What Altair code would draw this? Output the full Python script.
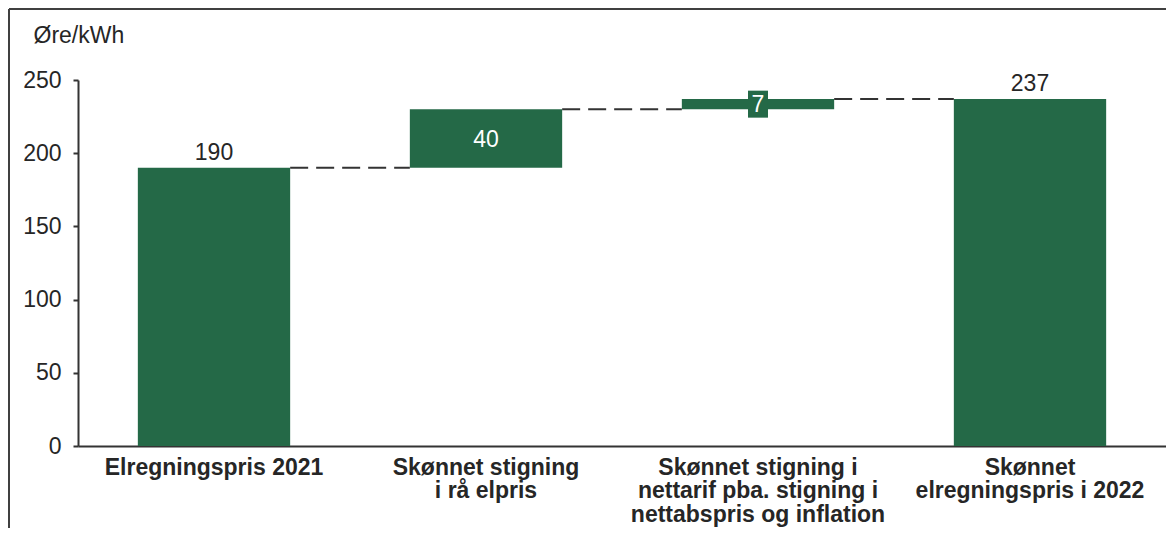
import altair as alt
import pandas as pd

categories = [
    "Elregningspris 2021",
    "Skønnet stigning|i rå elpris",
    "Skønnet stigning i|nettarif pba. stigning i|nettabspris og inflation",
    "Skønnet|elregningspris i 2022",
]
values = [190, 40, 7, 237]
kinds = ["total", "delta", "delta", "total"]
y_ticks = [0, 50, 100, 150, 200, 250]

GREEN = "#246947"
TXT = "#262626"
FONT = "Liberation Sans"
FS = 23

# build waterfall table
rows = []
running = 0
for c, v, k in zip(categories, values, kinds):
    if k == "total":
        base, top = 0, v
        running = v
    else:
        base, top = running, running + v
        running = top
    rows.append({"cat": c, "value": v, "kind": k, "base": base, "top": top,
                 "mid": (base + top) / 2, "level": top})
df = pd.DataFrame(rows)

conn = pd.DataFrame({
    "cat": categories[:-1],
    "next": categories[1:],
    "level": [r["level"] for r in rows[:-1]],
})

xscale = alt.Scale(domain=categories, paddingInner=0.44, paddingOuter=0.22)
yscale = alt.Scale(domain=[0, 250], nice=False)

x_axis = alt.Axis(
    title=None, labelExpr="split(datum.label, '|')", labelAngle=0,
    labelFont=FONT, labelFontWeight="bold", labelFontSize=FS, labelColor=TXT,
    labelLineHeight=23.5, labelPadding=10, ticks=False, labelLimit=400,
    domainColor="#333333", domainWidth=2, labelBaseline="top",
)
y_axis = alt.Axis(
    values=y_ticks, grid=False, tickSize=5, tickWidth=2, tickColor="#333333",
    domainColor="#333333", domainWidth=2, labelPadding=12,
    labelFont=FONT, labelFontSize=FS, labelColor=TXT,
    title="Øre/kWh", titleAngle=0, titleAlign="left", titleBaseline="alphabetic",
    titleX=-45, titleY=-38, titleFont=FONT, titleFontSize=FS,
    titleFontWeight="normal", titleColor=TXT,
)

base = alt.Chart(df)

bars = base.mark_bar(color=GREEN).encode(
    x=alt.X("cat:N", sort=categories, scale=xscale, axis=x_axis),
    y=alt.Y("base:Q", scale=yscale, axis=y_axis),
    y2="top:Q",
)

connectors = alt.Chart(conn).mark_rule(
    color="#333333", strokeWidth=2, strokeDash=[18, 8]
).encode(
    x=alt.X("cat:N", sort=categories, scale=xscale, bandPosition=1),
    x2=alt.X2("next:N", bandPosition=0),
    y=alt.Y("level:Q", scale=yscale),
)

total_labels = base.transform_filter("datum.kind == 'total'").mark_text(
    font=FONT, fontSize=FS, color=TXT, baseline="alphabetic", dy=-8
).encode(
    x=alt.X("cat:N", sort=categories, scale=xscale),
    y=alt.Y("top:Q", scale=yscale),
    text="value:Q",
)

label_box = base.transform_filter("datum.kind == 'delta' && datum.value < 10").mark_point(
    shape="M-0.74,-1L0.74,-1L0.74,1L-0.74,1Z", filled=True, color=GREEN,
    opacity=1, size=729, strokeWidth=0,
).encode(
    x=alt.X("cat:N", sort=categories, scale=xscale),
    y=alt.Y("mid:Q", scale=yscale),
)

delta_labels = base.transform_filter("datum.kind == 'delta'").mark_text(
    font=FONT, fontSize=FS, color="white", baseline="middle", dy=1
).encode(
    x=alt.X("cat:N", sort=categories, scale=xscale),
    y=alt.Y("mid:Q", scale=yscale),
    text="value:Q",
)

frame_df = pd.DataFrame({"k": [0]})
frame_top = alt.Chart(frame_df).mark_rule(color="#404040", strokeWidth=2).encode(
    x=alt.value(-69), x2=alt.value(1088), y=alt.value(-71)
)
frame_left = alt.Chart(frame_df).mark_rule(color="#404040", strokeWidth=2).encode(
    x=alt.value(-69), y=alt.value(-71), y2=alt.value(448)
)

chart = alt.layer(
    frame_top, frame_left, bars, connectors, label_box, delta_labels, total_labels
).properties(
    width=1088, height=366,
    autosize=alt.AutoSizeParams(type="none"),
    padding={"left": 70, "top": 72, "right": 0, "bottom": 82},
).configure_view(stroke=None)

chart.save("out.html", embed_options={"renderer": "svg", "actions": False})
